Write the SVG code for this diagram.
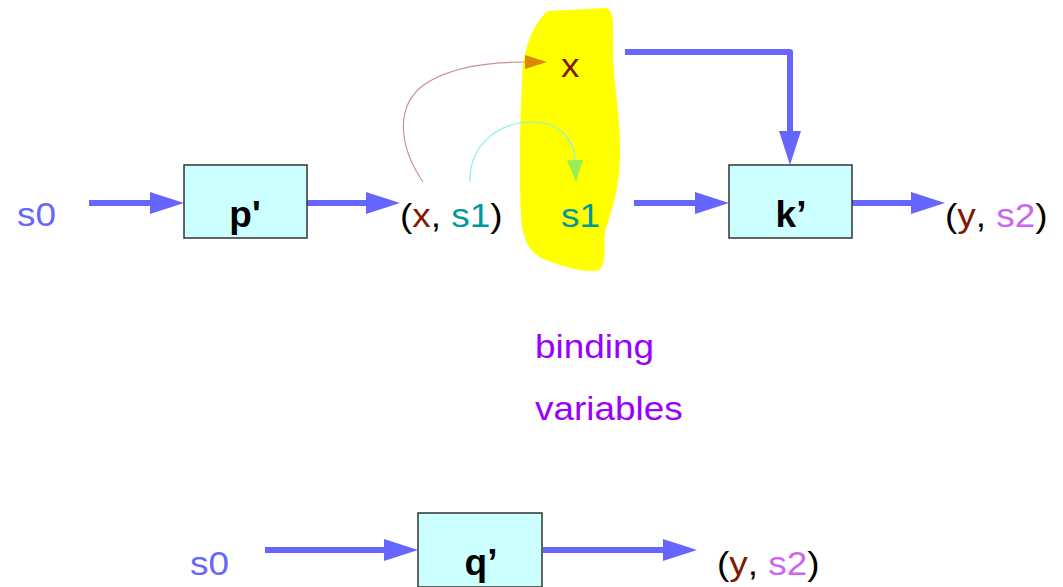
<svg xmlns="http://www.w3.org/2000/svg" width="1063" height="587" viewBox="0 0 1063 587">
<style>
text{font-family:"Liberation Sans",Arial,sans-serif;font-size:33px}
.box{fill:#ccffff;stroke:#333;stroke-width:1.5}
.lbl{font-weight:bold;font-size:37px;text-anchor:middle;fill:#000}
.flow{fill:none;stroke:#6666ff;stroke-width:6}
.blue{fill:#6666ff}
.red{fill:#7f1a00}
.teal{fill:#009999}
.vio{fill:#cc66ee}
.blk{fill:#000}
.pur{fill:#9900ff}
</style>
<defs>
<marker id="ah" markerUnits="userSpaceOnUse" viewBox="0 0 34 22" markerWidth="34" markerHeight="22" refX="0" refY="11" orient="auto">
<path d="M0,0 L34,11 L0,22 Z" fill="#6666ff"/>
</marker>
<marker id="ahO" markerUnits="userSpaceOnUse" viewBox="0 0 22 14" markerWidth="22" markerHeight="14" refX="0" refY="7" orient="auto">
<path d="M0,0 L22,7 L0,14 Z" fill="#dd8800"/>
</marker>
<marker id="ahG" markerUnits="userSpaceOnUse" viewBox="0 0 22 16" markerWidth="22" markerHeight="16" refX="0" refY="8" orient="auto">
<path d="M0,0 L22,8 L0,16 Z" fill="#99ee55"/>
</marker>
</defs>

<path id="blob" d="M548,11 L606,8 C613,9 614,22 613,45 C612,75 620,110 620,150 C620,185 614,205 606,228 C602,242 608,258 600,270 C585,274 562,266 546,260 C530,254 522,240 521,215 C519,175 520,120 522,80 C523,50 532,24 548,11 Z" fill="#ffff00"/>

<g id="connectors">
<line class="flow" x1="89" y1="203" x2="150" y2="203" marker-end="url(#ah)"/>
<line class="flow" x1="307" y1="203" x2="366" y2="203" marker-end="url(#ah)"/>
<line class="flow" x1="634" y1="203" x2="695" y2="203" marker-end="url(#ah)"/>
<line class="flow" x1="852" y1="203" x2="911" y2="203" marker-end="url(#ah)"/>
<polyline class="flow" points="625,52 790,52 790,131" stroke-linejoin="round" marker-end="url(#ah)"/>
<line class="flow" x1="265" y1="550" x2="384" y2="550" marker-end="url(#ah)"/>
<line class="flow" x1="543" y1="550" x2="663" y2="550" marker-end="url(#ah)"/>
<path d="M423,182 C398,145 395,105 425,84 C452,66 492,62 525,62" fill="none" stroke="#d09090" stroke-width="1.2" marker-end="url(#ahO)"/>
<path d="M470,182 C469,145 498,122 533,122 C560,122 574,140 575,160" fill="none" stroke="#88eeee" stroke-width="1.2" marker-end="url(#ahG)"/>
</g>

<g id="s0-top"><text transform="translate(17,226) scale(1.12,1)" class="blue">s0</text></g>
<g id="p"><rect class="box" x="184" y="165" width="123" height="73"/><text class="lbl" x="245" y="227">p'</text></g>
<g id="xs1"><text transform="translate(400,227) scale(1.12,1)"><tspan class="blk">(</tspan><tspan class="red">x</tspan><tspan class="blk">, </tspan><tspan class="teal">s1</tspan><tspan class="blk">)</tspan></text></g>
<g id="x"><text transform="translate(561,77) scale(1.12,1)" class="red">x</text></g>
<g id="s1"><text transform="translate(561,227) scale(1.12,1)" class="teal">s1</text></g>
<g id="k"><rect class="box" x="729" y="165" width="123" height="73"/><text class="lbl" x="791" y="227">k’</text></g>
<g id="ys2-top"><text transform="translate(945,227) scale(1.12,1)"><tspan class="blk">(</tspan><tspan class="red">y</tspan><tspan class="blk">, </tspan><tspan class="vio">s2</tspan><tspan class="blk">)</tspan></text></g>
<g id="binding"><text transform="translate(535,358) scale(1.12,1)" class="pur">binding</text><text transform="translate(535,420) scale(1.12,1)" class="pur">variables</text></g>
<g id="s0-bottom"><text transform="translate(190,575) scale(1.12,1)" class="blue">s0</text></g>
<g id="q"><rect class="box" x="418" y="513" width="124" height="74"/><text class="lbl" x="481" y="575">q’</text></g>
<g id="ys2-bottom"><text transform="translate(717,575) scale(1.12,1)"><tspan class="blk">(</tspan><tspan class="red">y</tspan><tspan class="blk">, </tspan><tspan class="vio">s2</tspan><tspan class="blk">)</tspan></text></g>
</svg>
